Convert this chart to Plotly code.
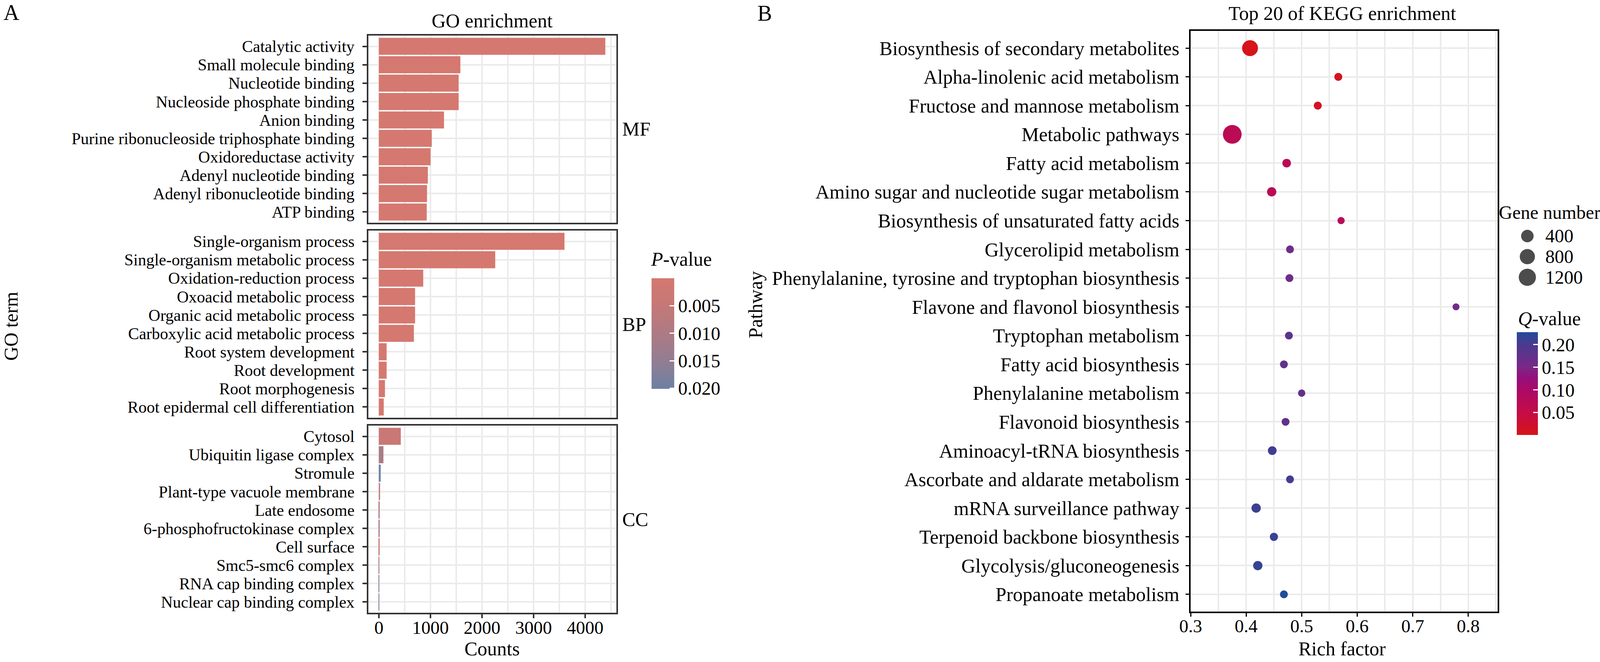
import plotly.graph_objects as go

W, H = 4130, 1694
FONT = "Liberation Serif, Times New Roman, serif"

# ---------------- Panel A data (GO enrichment) ----------------
mf_terms = ["Catalytic activity", "Small molecule binding", "Nucleotide binding",
            "Nucleoside phosphate binding", "Anion binding",
            "Purine ribonucleoside triphosphate binding", "Oxidoreductase activity",
            "Adenyl nucleotide binding", "Adenyl ribonucleotide binding", "ATP binding"]
mf_counts = [4391, 1580, 1547, 1547, 1263, 1026, 1002, 950, 934, 928]
mf_pvalue = [0.00001, 0.00002, 0.00002, 0.00002, 0.00003, 0.00003, 0.00004, 0.00004, 0.00004, 0.00004]

bp_terms = ["Single-organism process", "Single-organism metabolic process",
            "Oxidation-reduction process", "Oxoacid metabolic process",
            "Organic acid metabolic process", "Carboxylic acid metabolic process",
            "Root system development", "Root development", "Root morphogenesis",
            "Root epidermal cell differentiation"]
bp_counts = [3599, 2256, 860, 702, 702, 679, 150, 150, 118, 94]
bp_pvalue = [0.00001, 0.00001, 0.00002, 0.00002, 0.00002, 0.00002, 0.00003, 0.00003, 0.00004, 0.00004]

cc_terms = ["Cytosol", "Ubiquitin ligase complex", "Stromule", "Plant-type vacuole membrane",
            "Late endosome", "6-phosphofructokinase complex", "Cell surface",
            "Smc5-smc6 complex", "RNA cap binding complex", "Nuclear cap binding complex"]
cc_counts = [425, 88, 35, 23, 15, 15, 15, 8, 6, 5]
cc_pvalue = [0.0035, 0.011, 0.0201, 0.0055, 0.0095, 0.011, 0.003, 0.012, 0.016, 0.016]

ontologies = ["MF", "BP", "CC"]
p_ticks = [0.005, 0.010, 0.015, 0.020]

# ---------------- Panel B data (KEGG enrichment) ----------------
pathways = ["Biosynthesis of secondary metabolites", "Alpha-linolenic acid metabolism",
            "Fructose and mannose metabolism", "Metabolic pathways", "Fatty acid metabolism",
            "Amino sugar and nucleotide sugar metabolism",
            "Biosynthesis of unsaturated fatty acids", "Glycerolipid metabolism",
            "Phenylalanine, tyrosine and tryptophan biosynthesis",
            "Flavone and flavonol biosynthesis", "Tryptophan metabolism",
            "Fatty acid biosynthesis", "Phenylalanine metabolism", "Flavonoid biosynthesis",
            "Aminoacyl-tRNA biosynthesis", "Ascorbate and aldarate metabolism",
            "mRNA surveillance pathway", "Terpenoid backbone biosynthesis",
            "Glycolysis/gluconeogenesis", "Propanoate metabolism"]
rich_factor = [0.407, 0.566, 0.529, 0.375, 0.473, 0.446, 0.571, 0.479, 0.478, 0.778,
               0.477, 0.468, 0.500, 0.471, 0.447, 0.479, 0.418, 0.450, 0.421, 0.468]
gene_number = [937, 34, 37, 1561, 61, 98, 12, 31, 31, 7,
               31, 31, 14, 31, 67, 31, 100, 42, 100, 31]
q_value = [0.0005, 0.006, 0.010, 0.070, 0.070, 0.072, 0.075, 0.163, 0.163, 0.160,
           0.180, 0.178, 0.175, 0.180, 0.205, 0.205, 0.210, 0.212, 0.215, 0.2276]
gene_breaks = [400, 800, 1200]
q_ticks = [0.05, 0.10, 0.15, 0.20]


def X(px):
    return px / W


def Y(py):
    return 1 - py / H


def dot_size(n):
    # size scale (diameter in px) growing with sqrt of gene number
    return 15.6 + 0.82 * n ** 0.5


P_SCALE = [[0.0, "#6C80A3"], [0.25, "#927D93"], [0.5, "#AD7A84"], [0.75, "#C47877"], [1.0, "#D57870"]]
Q_SCALE = [[0.0, "#D61419"], [0.22, "#C50C47"], [0.44, "#AA0A68"], [0.55, "#960F7A"],
           [0.66, "#7A2887"], [0.88, "#4A3A8E"], [1.0, "#224B9A"]]

fig = go.Figure()

GRID = "#EBEBEB"
BORDER_A = "#333333"

all_p = mf_pvalue + bp_pvalue + cc_pvalue
panelsA = [(mf_terms, mf_counts, mf_pvalue, 91, 570),
           (bp_terms, bp_counts, bp_pvalue, 590, 1069),
           (cc_terms, cc_counts, cc_pvalue, 1089, 1568)]

layout_axes = {}
for i, (terms, counts, pv, top, bot) in enumerate(panelsA, start=1):
    xa = "x" if i == 1 else f"x{i}"
    ya = "y" if i == 1 else f"y{i}"
    fig.add_trace(go.Bar(
        x=counts, y=terms, orientation="h",
        marker=dict(color=[-p for p in pv], coloraxis="coloraxis", line=dict(width=0)),
        xaxis=xa, yaxis=ya, showlegend=False))
    last = (i == 3)
    layout_axes["xaxis" if i == 1 else f"xaxis{i}"] = dict(
        domain=[X(943), X(1578)], range=[-204, 4606], anchor=ya,
        tick0=0, dtick=1000, showgrid=True, gridcolor=GRID, gridwidth=4,
        minor=dict(dtick=500, tick0=0, showgrid=True, gridcolor=GRID, gridwidth=4),
        zeroline=False, showline=True, linecolor=BORDER_A, linewidth=4, mirror=True,
        ticks="outside" if last else "", ticklen=10, tickwidth=3.5, tickcolor=BORDER_A,
        showticklabels=last, tickfont=dict(family=FONT, size=47, color="black"),
        ticklabelstandoff=-16)
    layout_axes["yaxis" if i == 1 else f"yaxis{i}"] = dict(
        domain=[Y(bot), Y(top)], type="category", categoryorder="array",
        categoryarray=terms, range=[9.585, -0.585], anchor=xa,
        tickmode="array", tickvals=terms, ticktext=terms,
        showgrid=True, gridcolor=GRID, gridwidth=4,
        showline=True, linecolor=BORDER_A, linewidth=4, mirror=True,
        ticks="outside", ticklen=11, tickwidth=3.5, tickcolor=BORDER_A,
        tickfont=dict(family=FONT, size=42, color="black"), ticklabelstandoff=12)

# Panel B scatter
fig.add_trace(go.Scatter(
    x=rich_factor, y=pathways, mode="markers",
    marker=dict(size=[dot_size(n) for n in gene_number], color=q_value,
                coloraxis="coloraxis2", line=dict(width=0), opacity=1),
    xaxis="x4", yaxis="y4", showlegend=False))

layout_axes["xaxis4"] = dict(
    domain=[X(3048), X(3834)], range=[0.3, 0.853], anchor="y4",
    tick0=0.3, dtick=0.1, tickformat=".1f", showgrid=True, gridcolor=GRID, gridwidth=4,
    minor=dict(dtick=0.05, tick0=0.3, showgrid=True, gridcolor=GRID, gridwidth=4),
    zeroline=False, showline=True, linecolor="black", linewidth=3.5, mirror=True,
    ticks="outside", ticklen=9, tickwidth=3, tickcolor="black",
    tickfont=dict(family=FONT, size=47, color="black"), ticklabelstandoff=-16)
layout_axes["yaxis4"] = dict(
    domain=[Y(1565), Y(79)], type="category", categoryorder="array",
    categoryarray=pathways, range=[19.6, -0.6], anchor="x4",
    tickmode="array", tickvals=pathways, ticktext=pathways,
    showgrid=True, gridcolor=GRID, gridwidth=4,
    showline=True, linecolor="black", linewidth=3.5, mirror=True,
    ticks="outside", ticklen=9, tickwidth=3, tickcolor="black",
    tickfont=dict(family=FONT, size=50, color="black"), ticklabelstandoff=6)

# Size legend (Gene number) drawn on an auxiliary hidden axis
fig.add_trace(go.Scatter(
    x=[0] * len(gene_breaks), y=list(range(len(gene_breaks))), mode="markers",
    marker=dict(size=[dot_size(n) for n in gene_breaks], color="black", line=dict(width=0)),
    xaxis="x5", yaxis="y5", showlegend=False, hoverinfo="skip"))
layout_axes["xaxis5"] = dict(domain=[X(3880), X(3940)], range=[-1, 1], visible=False, anchor="y5")
layout_axes["yaxis5"] = dict(domain=[Y(735.9), Y(577.6)], range=[2.5, -0.5], visible=False, anchor="x5")

annotations = []


def ann(text, x, y, size=50, xanchor="center", yanchor="middle", angle=0, xref="paper", yref="paper"):
    annotations.append(dict(text=text, x=x, y=y, xref=xref, yref=yref, xanchor=xanchor,
                            yanchor=yanchor, textangle=angle, showarrow=False, borderpad=0,
                            font=dict(family=FONT, size=size, color="black")))


ann("A", X(8), Y(32), size=56, xanchor="left")
ann("B", X(1938), Y(34), size=56, xanchor="left")
ann("GO enrichment", X(1260), Y(53))
ann("Top 20 of KEGG enrichment", X(3436), Y(34))
for name, (_, _, _, top, bot) in zip(ontologies, panelsA):
    ann(name, X(1592), Y((top + bot) / 2), xanchor="left")
ann("GO term", X(28), Y(835), angle=-90)
ann("Pathway", X(1934), Y(780), angle=-90)
ann("Counts", X(1260), Y(1660))
ann("Rich factor", X(3436), Y(1660))
ann("<i>P</i>-value", X(1665), Y(663), xanchor="left")
ann("<i>Q</i>-value", X(3885), Y(815), xanchor="left")
ann("Gene number", X(3836), Y(543), size=48, xanchor="left")
for i, g in enumerate(gene_breaks):
    ann(str(g), X(3955), i, size=48, xanchor="left", yref="y5")

# white tick marks on the left edge of each colour bar (ggplot style, both sides)
shapes = []
p_lo, p_hi = min(all_p), max(all_p)
for t in p_ticks:
    ypx = 712 + (t - p_lo) / (p_hi - p_lo) * 283
    shapes.append(dict(type="line", xref="paper", yref="paper", x0=X(1668), x1=X(1680),
                       y0=Y(ypx), y1=Y(ypx), line=dict(color="white", width=3), layer="above"))
q_lo, q_hi = min(q_value), max(q_value)
for t in q_ticks:
    ypx = 1113 - (t - q_lo) / (q_hi - q_lo) * 263
    shapes.append(dict(type="line", xref="paper", yref="paper", x0=X(3883), x1=X(3895),
                       y0=Y(ypx), y1=Y(ypx), line=dict(color="white", width=3), layer="above"))

fig.update_layout(
    width=W, height=H, margin=dict(l=0, r=0, t=0, b=0, autoexpand=False),
    paper_bgcolor="white", plot_bgcolor="white", bargap=0.074,
    font=dict(family=FONT, color="black"),
    annotations=annotations, shapes=shapes,
    coloraxis=dict(
        colorscale=P_SCALE, cmin=-p_hi, cmax=-p_lo,
        colorbar=dict(
            x=X(1668), xanchor="left", y=Y((712 + 995) / 2), yanchor="middle",
            thickness=58, thicknessmode="pixels", len=283, lenmode="pixels",
            xpad=0, ypad=0, outlinewidth=0,
            tickvals=[-t for t in p_ticks], ticktext=[f"{t:.3f}" for t in p_ticks],
            ticks="inside", ticklen=12, tickwidth=3, tickcolor="white",
            tickfont=dict(family=FONT, size=48, color="black"), title=dict(text=""))),
    coloraxis2=dict(
        colorscale=Q_SCALE, cmin=q_lo, cmax=q_hi,
        colorbar=dict(
            x=X(3883), xanchor="left", y=Y((850 + 1113) / 2), yanchor="middle",
            thickness=54, thicknessmode="pixels", len=263, lenmode="pixels",
            xpad=0, ypad=0, outlinewidth=0,
            tickvals=q_ticks, ticktext=[f"{t:.2f}" for t in q_ticks],
            ticks="inside", ticklen=12, tickwidth=3, tickcolor="white",
            tickfont=dict(family=FONT, size=48, color="black"), title=dict(text=""))),
    **layout_axes)

fig.write_html("out.html", config={"displayModeBar": False},
               post_script="document.body.style.margin='0px';document.body.style.overflow='hidden';")
